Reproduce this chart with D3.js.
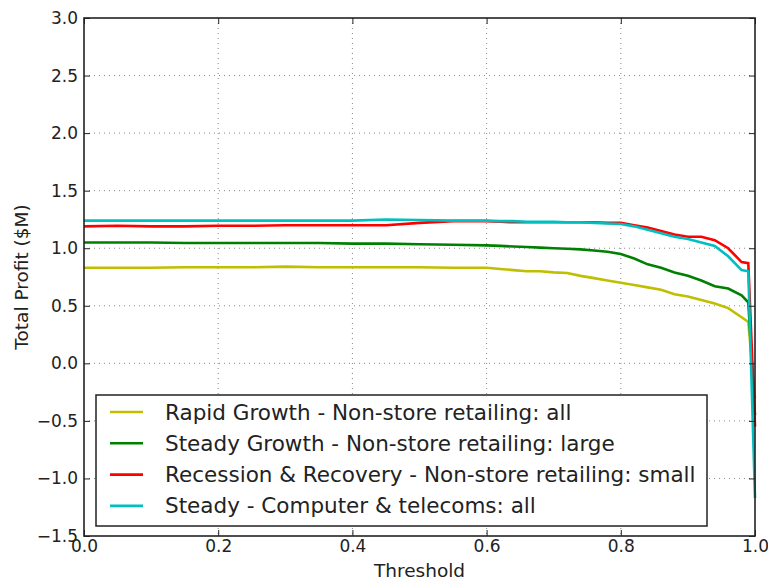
<!DOCTYPE html>
<html><head><meta charset="utf-8">
<script src="https://cdn.jsdelivr.net/npm/d3@7"></script>
<style>body{margin:0;background:#fff}svg{display:block}text{font-family:"DejaVu Sans",sans-serif;fill:#222}</style>
</head><body><svg id="c" width="768" height="582"></svg>
<script>
const thresholds = [0,0.05,0.1,0.15,0.2,0.25,0.3,0.35,0.4,0.45,0.5,0.55,0.6,0.62,0.64,0.66,0.68,0.7,0.72,0.74,0.76,0.78,0.8,0.82,0.84,0.86,0.88,0.9,0.92,0.94,0.96,0.98,0.99,1.0];
const rapidGrowth = [0.83,0.83,0.83,0.835,0.835,0.835,0.84,0.835,0.835,0.835,0.835,0.83,0.83,0.82,0.81,0.80,0.80,0.79,0.785,0.76,0.74,0.72,0.70,0.68,0.66,0.64,0.60,0.58,0.55,0.52,0.48,0.40,0.36,-0.30];
const steadyGrowth = [1.05,1.05,1.05,1.045,1.045,1.045,1.045,1.045,1.04,1.04,1.035,1.03,1.025,1.02,1.015,1.01,1.005,1.0,0.995,0.99,0.98,0.97,0.95,0.91,0.86,0.83,0.79,0.76,0.72,0.67,0.65,0.59,0.53,-0.45];
const recession = [1.19,1.195,1.19,1.19,1.195,1.195,1.20,1.20,1.20,1.20,1.22,1.235,1.235,1.23,1.225,1.225,1.225,1.225,1.225,1.225,1.225,1.22,1.22,1.20,1.18,1.15,1.12,1.10,1.10,1.07,1.00,0.88,0.87,-0.55];
const steady = [1.24,1.24,1.24,1.24,1.24,1.24,1.24,1.24,1.24,1.25,1.245,1.24,1.24,1.235,1.235,1.23,1.23,1.23,1.225,1.225,1.22,1.215,1.21,1.19,1.16,1.13,1.10,1.08,1.05,1.02,0.93,0.81,0.80,-1.17];
const seriesNames = ["Rapid Growth - Non-store retailing: all","Steady Growth - Non-store retailing: large","Recession & Recovery - Non-store retailing: small","Steady - Computer & telecoms: all"];
const seriesColors = ["#bfbf00","#008000","#ff0000","#00bfbf"];
const xTicks = [0,0.2,0.4,0.6,0.8,1.0];
const yTicks = [-1.5,-1.0,-0.5,0.0,0.5,1.0,1.5,2.0,2.5,3.0];

const series = [rapidGrowth, steadyGrowth, recession, steady];
const L=84,R=755,T=18,B=536;
const svg=d3.select("#c");
const x=d3.scaleLinear().domain([0,1]).range([L,R]);
const y=d3.scaleLinear().domain([-1.5,3]).range([B,T]);

// grid
const g=svg.append("g");
g.selectAll(".gx").data(xTicks.slice(1,-1)).enter().append("line")
 .attr("x1",d=>x(d)).attr("x2",d=>x(d)).attr("y1",T).attr("y2",B)
 .attr("stroke","#888").attr("stroke-width",1).attr("stroke-dasharray","1,4");
g.selectAll(".gy").data(yTicks.slice(1,-1)).enter().append("line")
 .attr("y1",d=>y(d)).attr("y2",d=>y(d)).attr("x1",L).attr("x2",R)
 .attr("stroke","#888").attr("stroke-width",1).attr("stroke-dasharray","1,4");

// lines
const line=d3.line().x((d,i)=>x(thresholds[i])).y(d=>y(d));
series.forEach((s,i)=>{
 svg.append("path").datum(s).attr("d",line).attr("fill","none")
  .attr("stroke",seriesColors[i]).attr("stroke-width",2.6).attr("stroke-linejoin","miter");
});

// axes
const fmt=d=>d3.format(".1f")(d).replace("-","\u2212");
const ax=d3.axisBottom(x).tickValues(xTicks).tickFormat(fmt).tickSizeInner(-6).tickSizeOuter(0).tickPadding(4);
const ay=d3.axisLeft(y).tickValues(yTicks).tickFormat(fmt).tickSizeInner(-6).tickSizeOuter(0).tickPadding(6);
const axT=d3.axisTop(x).tickValues(xTicks).tickFormat("").tickSizeInner(-6).tickSizeOuter(0);
const ayR=d3.axisRight(y).tickValues(yTicks).tickFormat("").tickSizeInner(-6).tickSizeOuter(0);
function style(sel){sel.attr("font-size",null).attr("font-family",null);sel.select(".domain").remove();sel.selectAll("line").attr("stroke","#222").attr("stroke-width",1);sel.selectAll("text").style("font-size","17px").attr("fill","#222");}
svg.append("g").attr("transform",`translate(0,${B})`).call(ax).call(style);
svg.append("g").attr("transform",`translate(${L},0)`).call(ay).call(style);
svg.append("g").attr("transform",`translate(0,${T})`).call(axT).call(style);
svg.append("g").attr("transform",`translate(${R},0)`).call(ayR).call(style);

svg.append("rect").attr("x",L).attr("y",T).attr("width",R-L).attr("height",B-T)
 .attr("fill","none").attr("stroke","#222").attr("stroke-width",1.6);

svg.append("text").attr("x",(L+R)/2).attr("y",577).attr("text-anchor","middle").style("font-size","18.5px").text("Threshold");
svg.append("text").attr("transform",`translate(28,${(T+B)/2}) rotate(-90)`).attr("text-anchor","middle").style("font-size","18.5px").text("Total Profit ($M)");

// legend
const lg=svg.append("g");
lg.append("rect").attr("x",96).attr("y",395).attr("width",611).attr("height",131).attr("fill","#fff").attr("stroke","#222").attr("stroke-width",1.5);
seriesNames.forEach((n,i)=>{
 const yy=412+i*31.3;
 lg.append("line").attr("x1",110).attr("x2",143).attr("y1",yy).attr("y2",yy).attr("stroke",seriesColors[i]).attr("stroke-width",2.6);
 lg.append("text").attr("x",165).attr("y",yy+7.5).style("font-size","21.5px").text(n);
});
</script></body></html>
